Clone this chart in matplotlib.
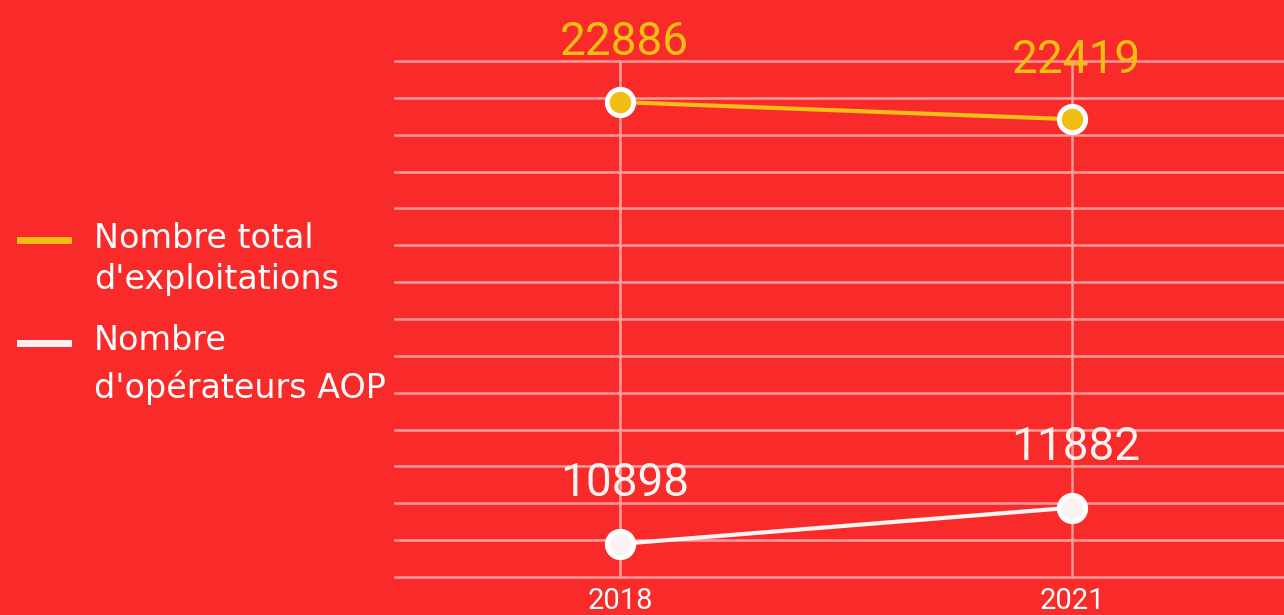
import matplotlib.pyplot as plt
from matplotlib.lines import Line2D
import numpy as np

years = [2018, 2021]
exploitations = [22886, 22419]
operateurs_aop = [10898, 11882]

BG = '#F92A2A'
YELLOW = '#F0BE14'
WHITE = '#FAF3F3'
GRID = '#FF9C9C'

fig = plt.figure(figsize=(12.84, 6.15), dpi=100, facecolor=BG)
ax = fig.add_axes([395/1284, 1 - 577/615, 1 - 395/1284, (577 - 61)/615])
ax.set_facecolor(BG)

ax.set_xlim(2016.507, 2022.407)
ax.set_ylim(10000, 24000)
ax.set_yticks(np.arange(10000, 24001, 1000))
ax.set_xticks(years)
ax.set_xticklabels([str(y) for y in years])

ax.grid(True, color=GRID, linewidth=1.8, zorder=0)
ax.set_axisbelow(True)
for gl in ax.get_ygridlines() + ax.get_xgridlines():
    gl.set_clip_on(False)
for s in ax.spines.values():
    s.set_visible(False)
ax.tick_params(axis='both', length=0)
ax.tick_params(axis='y', labelleft=False)
ax.tick_params(axis='x', colors='white', labelsize=21, pad=7)
for t in ax.get_xticklabels():
    t.set_family('Roboto')

ax.plot(years, exploitations, color=YELLOW, lw=3, zorder=3, clip_on=False,
        marker='o', ms=19, mfc=YELLOW, mec='white', mew=3.5)
ax.plot(years, operateurs_aop, color=WHITE, lw=3, zorder=3, clip_on=False,
        marker='o', ms=19, mfc=WHITE, mec='white', mew=3.5)

for x, v in zip(years, exploitations):
    ax.annotate(str(v), (x, v), xytext=(3, 43), textcoords='offset points',
                ha='center', va='center', color=YELLOW, fontsize=33,
                family='Roboto', annotation_clip=False)
for x, v in zip(years, operateurs_aop):
    ax.annotate(str(v), (x, v), xytext=(3, 44), textcoords='offset points',
                ha='center', va='center', color=WHITE, fontsize=33,
                family='Roboto', annotation_clip=False)

# legend drawn by hand on the left side
for ly, col in [(240, YELLOW), (343, WHITE)]:
    fig.add_artist(Line2D([20/1284, 68/1284], [1 - ly/615, 1 - ly/615],
                          color=col, lw=5, transform=fig.transFigure))
lines = [(238, "Nombre total"), (279, "d'exploitations"),
         (341, "Nombre"), (388, "d'opérateurs AOP")]
for ly, txt in lines:
    fig.text(94/1284, 1 - ly/615, txt, color='white', fontsize=24,
             family='DejaVu Sans', fontstretch='normal', va='center', ha='left')

fig.savefig('out.png', dpi=100, facecolor=BG)
